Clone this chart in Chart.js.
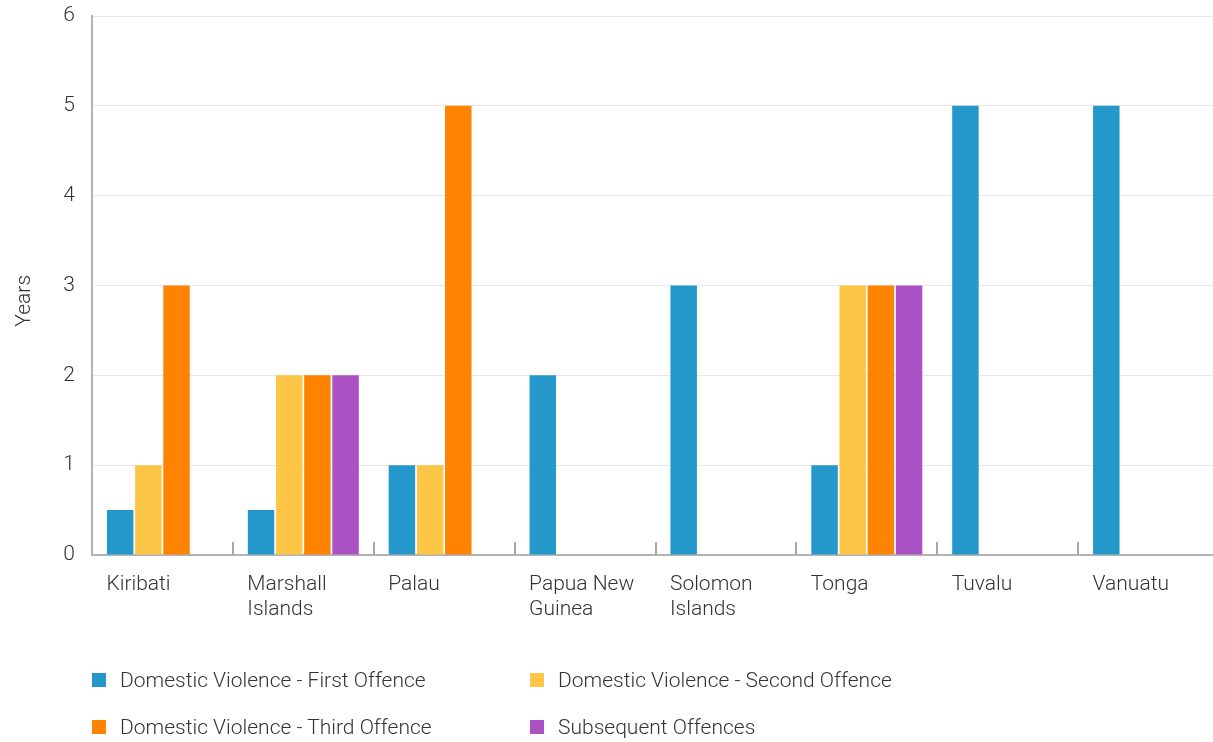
<!DOCTYPE html>
<html lang="en">
<head>
    <meta charset="UTF-8">
    <title>Maximum Sentence - Domestic Violence</title>
    <script src="https://cdn.jsdelivr.net/npm/chart.js"></script>
    <style>
        html, body { margin: 0; padding: 0; background: #fff; overflow: hidden; }
        #wrap { position: relative; width: 1219px; height: 742px; }
        #legend { position: absolute; left: 92px; top: 665px; width: 900px;
                  display: grid; grid-template-columns: 438px 438px; row-gap: 17px;
                  font-family: 'Roboto', sans-serif; font-weight: 300; font-size: 21px; color: #333; }
        #legend div { display: flex; align-items: center; height: 30px; }
        #legend span.box { display: inline-block; width: 14px; height: 14px; margin-right: 14px; }
    </style>
</head>
<body>
    <div id="wrap">
        <canvas id="myChart" width="1219" height="742"></canvas>
        <div id="legend"></div>
    </div>

    <script>
        const countries = ['Kiribati', ['Marshall', 'Islands'], 'Palau', ['Papua New', 'Guinea'],
                           ['Solomon', 'Islands'], 'Tonga', 'Tuvalu', 'Vanuatu'];
        const firstOffence = [0.5, 0.5, 1, 2, 3, 1, 5, 5];
        const secondOffence = [1, 2, 1, null, null, 3, null, null];
        const thirdOffence = [3, 2, 5, null, null, 3, null, null];
        const subsequentOffences = [null, 2, null, null, null, 3, null, null];
        const yearTicks = [0, 1, 2, 3, 4, 5, 6];

        const seriesNames = ['Domestic Violence - First Offence', 'Domestic Violence - Second Offence',
                             'Domestic Violence - Third Offence', 'Subsequent Offences'];
        const seriesColors = ['#2598cb', '#fec647', '#fe8300', '#aa52c3'];
        const seriesData = [firstOffence, secondOffence, thirdOffence, subsequentOffences];

        const FONT = { family: 'Roboto', weight: '300', size: 21 };

        // short upward tick marks between the country groups
        const groupTicks = {
            id: 'groupTicks',
            afterDatasetsDraw(chart) {
                const x = chart.scales.x, area = chart.chartArea, ctx = chart.ctx;
                const step = x.getPixelForValue(1) - x.getPixelForValue(0);
                ctx.save();
                ctx.strokeStyle = '#a6a6a6';
                ctx.lineWidth = 2;
                for (let i = 1; i < countries.length; i++) {
                    const px = Math.round(x.getPixelForValue(i) - step / 2);
                    ctx.beginPath();
                    ctx.moveTo(px, area.bottom);
                    ctx.lineTo(px, area.bottom - 13);
                    ctx.stroke();
                }
                ctx.restore();
            }
        };

        const ctx = document.getElementById('myChart').getContext('2d');
        const myChart = new Chart(ctx, {
            type: 'bar',
            data: {
                labels: countries,
                datasets: seriesData.map((d, i) => ({
                    label: seriesNames[i],
                    data: d,
                    backgroundColor: seriesColors[i],
                    borderWidth: 0,
                    categoryPercentage: 0.8,
                    barPercentage: 0.94
                }))
            },
            options: {
                responsive: false,
                animation: false,
                layout: { padding: { top: 16, right: 0, left: 0, bottom: 0 } },
                plugins: {
                    legend: { display: false },
                    tooltip: { enabled: false }
                },
                scales: {
                    x: {
                        grid: { display: false },
                        border: { color: '#b3b3b3', width: 2 },
                        ticks: {
                            align: 'start',
                            labelOffset: -56,
                            padding: 9,
                            color: '#333',
                            font: FONT
                        },
                        afterFit(scale) {
                            scale.height = 187;
                            scale.paddingLeft = 0;
                            scale.paddingRight = 0;
                        }
                    },
                    y: {
                        min: 0,
                        max: 6,
                        afterBuildTicks(scale) { scale.ticks = yearTicks.map(v => ({ value: v })); },
                        grid: { color: '#e8e8e8', lineWidth: 1, drawTicks: false },
                        border: { color: '#b3b3b3', width: 2 },
                        ticks: { padding: 17, color: '#333', font: FONT },
                        // trailing spaces nudge the rotated title a little lower
                        title: { display: true, text: 'Years      ', color: '#333', font: FONT, padding: { top: 12, bottom: 0 } },
                        afterFit(scale) {
                            scale.width = 92;
                            scale.paddingTop = 0;
                            scale.paddingBottom = 0;
                        }
                    }
                }
            },
            plugins: [groupTicks]
        });

        const legend = document.getElementById('legend');
        seriesNames.forEach((name, i) => {
            const item = document.createElement('div');
            item.innerHTML = '<span class="box" style="background:' + seriesColors[i] + '"></span>' + name;
            legend.appendChild(item);
        });
    </script>
</body>
</html>
